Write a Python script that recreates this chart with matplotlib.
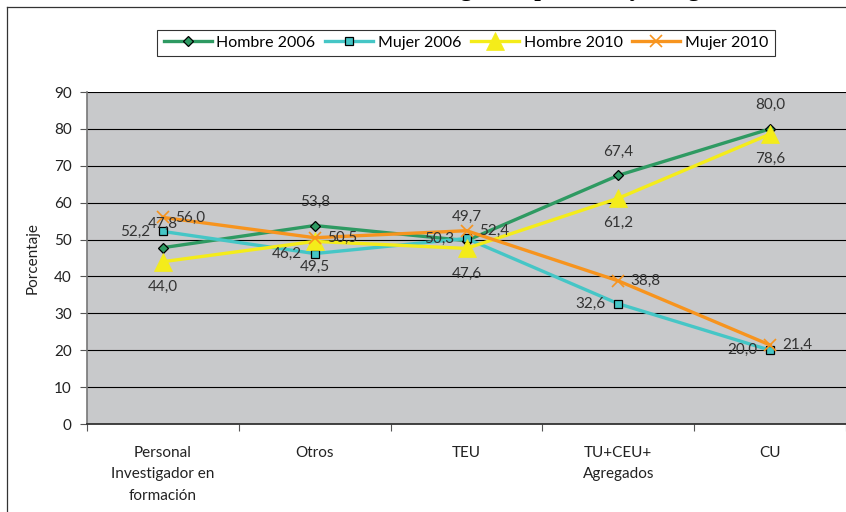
import matplotlib
matplotlib.use("Agg")
import matplotlib.pyplot as plt
from matplotlib.lines import Line2D

plt.rcParams['font.family'] = ['Lato', 'DejaVu Sans']

categories = ["Personal\nInvestigador en\nformación", "Otros", "TEU", "TU+CEU+\nAgregados", "CU"]
hombre_2006 = [47.8, 53.8, 49.7, 67.4, 80.0]
mujer_2006 = [52.2, 46.2, 50.3, 32.6, 20.0]
hombre_2010 = [44.0, 49.5, 47.6, 61.2, 78.6]
mujer_2010 = [56.0, 50.5, 52.4, 38.8, 21.4]
y_ticks = [0, 10, 20, 30, 40, 50, 60, 70, 80, 90]
title_text = "Distribución de género por edad y categoría"

W, H = 846, 512
fig = plt.figure(figsize=(W / 100, H / 100), dpi=100)
fig.patch.set_facecolor("white")

# chart area border (left and top edges visible)
fig.add_artist(Line2D([7 / W, 7 / W], [0, 1 - 7 / H], transform=fig.transFigure, color="#333333", lw=0.9))
fig.add_artist(Line2D([7 / W, 1], [1 - 7 / H, 1 - 7 / H], transform=fig.transFigure, color="#333333", lw=0.9))

# partially visible title (cut off at top)
fig.text(0.615, 1 + 3.6 / H, title_text, ha="center", va="baseline",
         family=["Liberation Serif"], fontweight="bold", fontsize=17, color="black")

ax = fig.add_axes([87 / W, 1 - 424 / H, 1 - 87 / W, (424 - 92) / H])
ax.set_facecolor("#C8C9CB")
x = list(range(len(categories)))

series = [
    ("Hombre 2006", hombre_2006, "#2E9A62", dict(marker="D", ms=5.5, mfc="#2E9A62", mec="black", mew=0.9), "above"),
    ("Mujer 2006", mujer_2006, "#45C6C6", dict(marker="s", ms=6, mfc="#45C6C6", mec="black", mew=0.9), "left"),
    ("Hombre 2010", hombre_2010, "#F4EC1A", dict(marker="^", ms=13, mfc="#F4EC1A", mec="#F4EC1A", mew=0.5), "below"),
    ("Mujer 2010", mujer_2010, "#F7941E", dict(marker="x", ms=8, mfc="#F7941E", mec="#F7941E", mew=1.2), "right"),
]

for name, vals, col, mk, pos in series:
    ax.plot(x, vals, color=col, lw=2.4, label=name, zorder=3, **mk)

fs = 11
for name, vals, col, mk, pos in series:
    for xi, v in zip(x, vals):
        lab = f"{v:.1f}".replace(".", ",")
        if pos == "above":
            ax.annotate(lab, (xi, v), xytext=(0, 17), textcoords="offset points", ha="center", va="center", fontsize=fs, color="#333333", zorder=5)
        elif pos == "below":
            ax.annotate(lab, (xi, v), xytext=(0, -18), textcoords="offset points", ha="center", va="center", fontsize=fs, color="#333333", zorder=5)
        elif pos == "left":
            ax.annotate(lab, (xi, v), xytext=(-9, 0), textcoords="offset points", ha="right", va="center", fontsize=fs, color="#333333", zorder=5)
        else:
            ax.annotate(lab, (xi, v), xytext=(9, 0), textcoords="offset points", ha="left", va="center", fontsize=fs, color="#333333", zorder=5)

ax.set_xlim(-0.5, len(categories) - 0.5)
ax.set_ylim(0, 90)
ax.set_yticks(y_ticks)
ax.set_yticklabels([str(t) for t in y_ticks], fontsize=fs, color="#222222")
ax.yaxis.grid(True, color="black", lw=0.8)
ax.set_axisbelow(True)

# x ticks at category boundaries, labels centered
ax.set_xticks([i - 0.5 for i in range(len(categories) + 1)])
ax.set_xticklabels([])
ax.set_xticks(x, minor=True)
ax.set_xticklabels(categories, minor=True, fontsize=fs, color="#222222", linespacing=1.65)
ax.tick_params(axis="x", which="minor", length=0, pad=16)
ax.tick_params(axis="x", which="major", length=5, width=0.8, color="#555555", direction="out")
ax.tick_params(axis="y", length=5, width=0.8, color="#555555", direction="out", pad=6)

for side in ["top", "right"]:
    ax.spines[side].set_visible(False)
ax.spines["left"].set_color("#777777")
ax.spines["left"].set_linewidth(1.2)
ax.spines["bottom"].set_color("#333333")
ax.spines["bottom"].set_linewidth(1.3)

ax.set_ylabel("Porcentaje", fontsize=fs, color="#222222", labelpad=10)

leg = fig.legend(loc="center", bbox_to_anchor=(466 / W, 1 - 43 / H), ncol=4, fontsize=11.5,
                 frameon=True, fancybox=False, edgecolor="black", handlelength=3.0,
                 columnspacing=0.6, handletextpad=0.3, borderpad=0.4)
leg.get_frame().set_linewidth(0.8)

fig.savefig("out.png", dpi=100)
